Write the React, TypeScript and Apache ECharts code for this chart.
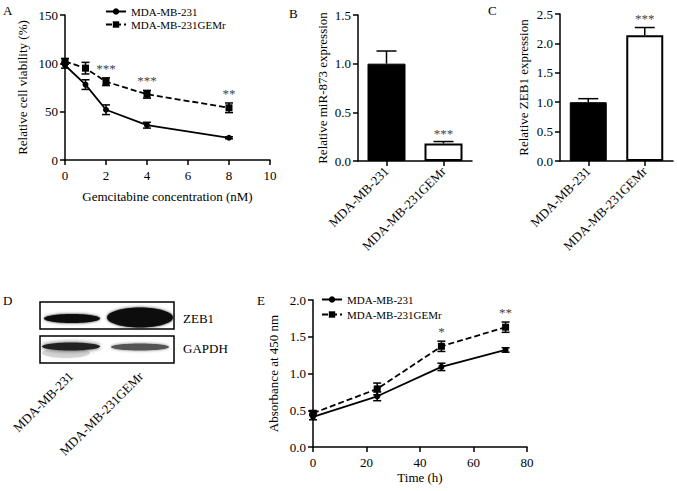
import React, { useEffect, useRef } from 'react';
import * as echarts from 'echarts';

const FONT = 'Liberation Serif';

// Panel A
const concA = [0, 1, 2, 4, 8];
const viab231 = [98, 78, 52, 36, 23];
const viab231Err = [3, 5, 5, 3, 1];
const viabGem = [102, 95, 81, 68, 54];
const viabGemErr = [3, 6, 4, 4, 5];
const sigA = ['', '', '***', '***', '**'];

// Panels B & C
const barCats = ['MDA-MB-231', 'MDA-MB-231GEMr'];
const mir873 = [1.0, 0.18];
const mir873Err = [0.13, 0.02];
const mirSig = ['', '***'];
const zeb1 = [1.0, 2.14];
const zeb1Err = [0.06, 0.13];
const zebSig = ['', '***'];

// Panel E
const timeE = [0, 24, 48, 72];
const abs231 = [0.41, 0.69, 1.09, 1.32];
const abs231Err = [0.04, 0.06, 0.05, 0.03];
const absGem = [0.46, 0.79, 1.37, 1.63];
const absGemErr = [0.03, 0.08, 0.07, 0.07];
const sigE = ['', '', '*', '**'];

const NAME1 = 'MDA-MB-231';
const NAME2 = 'MDA-MB-231GEMr';

const axisLine = { show: true, onZero: false, lineStyle: { color: '#000', width: 1.5 } };
const axisTick = { show: true, length: 5, lineStyle: { color: '#000', width: 1.5 } };
const lbl = { color: '#000', fontFamily: FONT, fontSize: 13 };
const nameStyle = { color: '#000', fontFamily: FONT, fontSize: 13 };

function errSeries(name: string, xi: number, xs: number[], ys: number[], es: number[], cap: number, upOnly: boolean) {
  return {
    type: 'custom', name, xAxisIndex: xi, yAxisIndex: xi, z: 5, silent: true, clip: false,
    data: ys.map((v, i) => [xs[i], v, es[i]]),
    renderItem: (params: any, api: any) => {
      const x = api.value(0), y = api.value(1), e = api.value(2);
      const t = api.coord([x, y + e]);
      const b = api.coord([x, upOnly ? y : y - e]);
      const st = { stroke: '#000', lineWidth: 1.5 };
      const ch: any[] = [
        { type: 'line', shape: { x1: t[0], y1: t[1], x2: b[0], y2: b[1] }, style: st },
        { type: 'line', shape: { x1: t[0] - cap, y1: t[1], x2: t[0] + cap, y2: t[1] }, style: st },
      ];
      if (!upOnly) ch.push({ type: 'line', shape: { x1: b[0] - cap, y1: b[1], x2: b[0] + cap, y2: b[1] }, style: st });
      return { type: 'group', children: ch };
    },
  };
}

function sigSeries(name: string, xi: number, xs: number[], ys: number[], es: number[], labels: string[], gap: number) {
  return {
    type: 'custom', name, xAxisIndex: xi, yAxisIndex: xi, z: 6, silent: true, clip: false,
    data: ys.map((v, i) => [xs[i], v + es[i]]),
    renderItem: (params: any, api: any) => {
      const p = api.coord([api.value(0), api.value(1)]);
      return {
        type: 'text', x: p[0], y: p[1] - gap,
        style: { text: labels[params.dataIndex], fill: '#444', fontFamily: FONT, fontSize: 13, align: 'center', verticalAlign: 'bottom' },
      };
    },
  };
}

function valAxis(gi: number, min: number, max: number, interval: number, name: string, gap: number, fixed: boolean) {
  return {
    type: 'value', gridIndex: gi, min, max, interval,
    name, nameLocation: 'middle', nameGap: gap, nameTextStyle: nameStyle,
    axisLine, axisTick, splitLine: { show: false },
    axisLabel: { ...lbl, margin: 7, formatter: fixed ? (v: number) => v.toFixed(1) : (v: number) => String(v) },
  };
}

export default function App() {
  const ref = useRef<HTMLDivElement>(null);
  useEffect(() => {
    if (!ref.current) return;
    const chart = echarts.init(ref.current, undefined, { renderer: 'svg' });
    const legendBase = {
      orient: 'vertical', itemWidth: 20, itemHeight: 8, selectedMode: false, padding: 0,
      textStyle: { fontFamily: FONT, fontSize: 11, color: '#000' }, data: [NAME1, NAME2],
    };
    const txt = (t: string, x: number, y: number, extra: any = {}) => ({
      type: 'text', x, y, ...extra,
      style: { text: t, fontFamily: FONT, fontSize: 13, fill: '#000', verticalAlign: 'middle', ...(extra.style || {}) },
    });
    const option: any = {
      animation: false,
      backgroundColor: '#fff',
      textStyle: { fontFamily: FONT },
      grid: [
        { left: 65, top: 15, width: 205, height: 145, outerBoundsMode: 'none' },
        { left: 358, top: 15, width: 114, height: 146, outerBoundsMode: 'none' },
        { left: 560, top: 14, width: 113, height: 147, outerBoundsMode: 'none' },
        { left: 313, top: 300, width: 214, height: 147, outerBoundsMode: 'none' },
      ],
      legend: [
        { ...legendBase, left: 105, top: 6, itemGap: 2 },
        { ...legendBase, left: 321, top: 294, itemGap: 4 },
      ],
      xAxis: [
        {
          type: 'value', gridIndex: 0, min: 0, max: 10, interval: 2,
          name: 'Gemcitabine concentration (nM)', nameLocation: 'middle', nameGap: 30, nameTextStyle: nameStyle,
          axisLine, axisTick, splitLine: { show: false }, axisLabel: { ...lbl, margin: 9 },
        },
        {
          type: 'category', gridIndex: 1, data: barCats,
          axisLine, axisTick: { ...axisTick, alignWithLabel: true }, axisLabel: { ...lbl, rotate: 45, margin: 8 },
        },
        {
          type: 'category', gridIndex: 2, data: barCats,
          axisLine, axisTick: { ...axisTick, alignWithLabel: true }, axisLabel: { ...lbl, rotate: 45, margin: 8 },
        },
        {
          type: 'value', gridIndex: 3, min: 0, max: 80, interval: 20,
          name: 'Time (h)', nameLocation: 'middle', nameGap: 24, nameTextStyle: nameStyle,
          axisLine, axisTick, splitLine: { show: false }, axisLabel: { ...lbl, margin: 9 },
        },
      ],
      yAxis: [
        valAxis(0, 0, 150, 50, 'Relative cell viability (%)', 36, false),
        valAxis(1, 0, 1.5, 0.5, 'Relative miR-873 expression', 29, true),
        valAxis(2, 0, 2.5, 0.5, 'Relative ZEB1 expression', 30, true),
        valAxis(3, 0, 2.0, 0.5, 'Absorbance at 450 nm', 33, true),
      ],
      series: [
        {
          type: 'line', name: NAME1, xAxisIndex: 0, yAxisIndex: 0, z: 4,
          data: concA.map((x, i) => [x, viab231[i]]), symbol: 'circle', symbolSize: 6,
          lineStyle: { color: '#000', width: 1.8 }, itemStyle: { color: '#000' },
        },
        {
          type: 'line', name: NAME2, xAxisIndex: 0, yAxisIndex: 0, z: 4,
          data: concA.map((x, i) => [x, viabGem[i]]), symbol: 'rect', symbolSize: 7,
          lineStyle: { color: '#000', width: 1.8, type: [6, 3] }, itemStyle: { color: '#000' },
        },
        errSeries('errA1', 0, concA, viab231, viab231Err, 4, false),
        errSeries('errA2', 0, concA, viabGem, viabGemErr, 4, false),
        sigSeries('sigA', 0, concA, viabGem, viabGemErr, sigA, 3),
        {
          type: 'bar', name: 'miR-873', xAxisIndex: 1, yAxisIndex: 1, barWidth: 38,
          data: mir873.map((v, i) => ({
            value: v,
            itemStyle: i === 0 ? { color: '#000', borderColor: '#000', borderWidth: 1 } : { color: '#fff', borderColor: '#000', borderWidth: 2 },
          })),
        },
        errSeries('errB', 1, [0, 1], mir873, mir873Err, 10, true),
        sigSeries('sigB', 1, [0, 1], mir873, mir873Err, mirSig, 2),
        {
          type: 'bar', name: 'ZEB1', xAxisIndex: 2, yAxisIndex: 2, barWidth: 37,
          data: zeb1.map((v, i) => ({
            value: v,
            itemStyle: i === 0 ? { color: '#000', borderColor: '#000', borderWidth: 1 } : { color: '#fff', borderColor: '#000', borderWidth: 2 },
          })),
        },
        errSeries('errC', 2, [0, 1], zeb1, zeb1Err, 10, true),
        sigSeries('sigC', 2, [0, 1], zeb1, zeb1Err, zebSig, 3),
        {
          type: 'line', name: NAME1, xAxisIndex: 3, yAxisIndex: 3, z: 4,
          data: timeE.map((x, i) => [x, abs231[i]]), symbol: 'circle', symbolSize: 6,
          lineStyle: { color: '#000', width: 1.8 }, itemStyle: { color: '#000' },
        },
        {
          type: 'line', name: NAME2, xAxisIndex: 3, yAxisIndex: 3, z: 4,
          data: timeE.map((x, i) => [x, absGem[i]]), symbol: 'rect', symbolSize: 7,
          lineStyle: { color: '#000', width: 1.8, type: [6, 3] }, itemStyle: { color: '#000' },
        },
        errSeries('errE1', 3, timeE, abs231, abs231Err, 4, false),
        errSeries('errE2', 3, timeE, absGem, absGemErr, 4, false),
        sigSeries('sigE', 3, timeE, absGem, absGemErr, sigE, 3),
      ],
      graphic: [
        txt('A', 3, 10),
        txt('B', 289, 13),
        txt('C', 488, 10),
        txt('D', 3, 300),
        txt('E', 257, 300),
        // Western blot bands
        { type: 'ellipse', shape: { cx: 72, cy: 318.5, rx: 28, ry: 4.5 }, style: { fill: '#111', shadowBlur: 3, shadowColor: 'rgba(0,0,0,0.8)' } },
        { type: 'ellipse', shape: { cx: 140, cy: 317.5, rx: 33, ry: 10 }, style: { fill: '#0a0a0a', shadowBlur: 3, shadowColor: 'rgba(0,0,0,0.8)' } },
        { type: 'ellipse', shape: { cx: 66, cy: 353, rx: 24, ry: 5 }, style: { fill: 'rgba(0,0,0,0.15)', shadowBlur: 6, shadowColor: 'rgba(0,0,0,0.3)' } },
        { type: 'ellipse', shape: { cx: 71, cy: 346.5, rx: 29, ry: 4 }, style: { fill: '#222', shadowBlur: 4, shadowColor: 'rgba(0,0,0,0.7)' } },
        { type: 'ellipse', shape: { cx: 140, cy: 347, rx: 29, ry: 3.5 }, style: { fill: '#555', shadowBlur: 3, shadowColor: 'rgba(0,0,0,0.5)' } },
        { type: 'rect', shape: { x: 40, y: 302, width: 134, height: 27 }, style: { fill: 'none', stroke: '#000', lineWidth: 1.5 } },
        { type: 'rect', shape: { x: 40, y: 336, width: 134, height: 27 }, style: { fill: 'none', stroke: '#000', lineWidth: 1.5 } },
        txt('ZEB1', 183, 318),
        txt('GAPDH', 183, 348),
        txt(barCats[0], 71, 374, { rotation: Math.PI / 4, style: { align: 'right' } }),
        txt(barCats[1], 141, 374, { rotation: Math.PI / 4, style: { align: 'right' } }),
      ],
    };
    chart.setOption(option);
    return () => chart.dispose();
  }, []);
  return <div ref={ref} style={{ position: 'absolute', left: 0, top: 0, width: 677, height: 491 }} />;
}
